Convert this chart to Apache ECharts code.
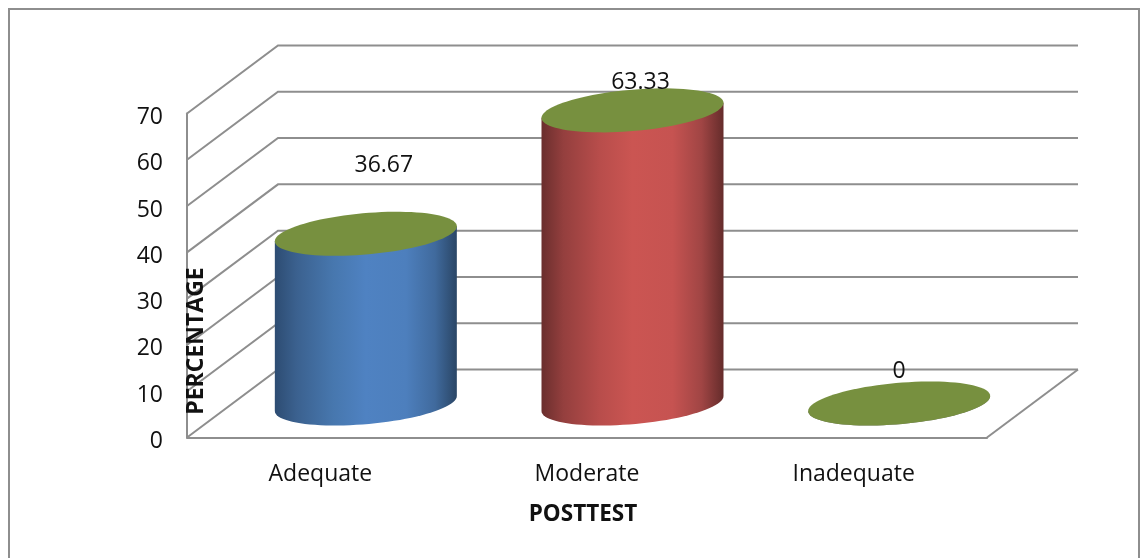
<!DOCTYPE html>
<html>
<head>
<meta charset="utf-8">
<style>html,body{margin:0;padding:0;background:#fff}#chart{width:1147px;height:558px}</style>
<script src="https://cdn.jsdelivr.net/npm/echarts@6/dist/echarts.min.js"></script>
</head>
<body>
<div id="chart"></div>
<script>
// Post-test percentages by adequacy level
const categories = ['Adequate', 'Moderate', 'Inadequate'];
const percentages = [36.67, 63.33, 0];
const valueTicks = [0, 10, 20, 30, 40, 50, 60, 70];
const xTitle = 'POSTTEST';
const yTitle = 'PERCENTAGE';

// Pseudo-3D box: how far the back wall sits from the front plane
const DEPTH_X = 91, DEPTH_Y = 68;
const LINE = '#8e8e8e', FONT = '"Open Sans", sans-serif';
const CAP = '#77903f';
const bodyFills = [
  [[0, '#2d4c72'], [0.12, '#3b618f'], [0.32, '#4777ae'], [0.5, '#4f82c2'], [0.72, '#4d7fbd'], [0.88, '#406a9d'], [1, '#2a4666']],
  [[0, '#6a2e2d'], [0.12, '#943f3e'], [0.32, '#b84d4b'], [0.5, '#cb5552'], [0.72, '#c65351'], [0.88, '#a04544'], [1, '#652c2b']],
  [[0, '#777'], [1, '#777']]
];
// Value labels sit a little off the cylinder axis
const labelShift = [[18, -68], [8, -28], [0, -32]];

function capPoint(cx, cy, t) {
  const rx = 91, skew = 7.5, ry = 20.7;
  return [cx + rx * Math.cos(t), cy - skew * Math.cos(t) - ry * Math.sin(t)];
}

function renderWall(params, api) {
  const box = params.coordSys;
  const y = api.coord([0, api.value(1)])[1];
  const isFloor = api.value(1) === 0;
  const right = box.x + box.width;
  const children = [{
    type: 'polyline',
    shape: { points: [[box.x, y], [box.x + DEPTH_X, y - DEPTH_Y], [right + DEPTH_X, y - DEPTH_Y]] },
    style: { stroke: LINE, lineWidth: 2, fill: null }
  }];
  if (isFloor) {
    children.push({
      type: 'line',
      shape: { x1: right + DEPTH_X, y1: y - DEPTH_Y, x2: right, y2: y },
      style: { stroke: LINE, lineWidth: 2 }
    });
  }
  return { type: 'group', children };
}

function renderCylinder(params, api) {
  const idx = params.dataIndex;
  const base = api.coord([api.value(0), 0]);
  const top = api.coord([api.value(0), api.value(1)]);
  const cx = base[0] + DEPTH_X / 2, baseY = base[1] - DEPTH_Y / 2, topY = top[1] - DEPTH_Y / 2;
  const N = 90, capPts = [], lower = [];
  for (let i = 0; i < N; i++) capPts.push(capPoint(cx, topY, i / N * 2 * Math.PI));
  for (let i = 0; i <= N / 2; i++) lower.push(capPoint(cx, baseY, Math.PI + i / N * 2 * Math.PI));
  const body = [capPoint(cx, topY, Math.PI)].concat(lower, [capPoint(cx, topY, 0)]);
  return {
    type: 'group',
    children: [
      {
        type: 'polygon', shape: { points: body },
        style: { fill: { type: 'linear', x: 0, y: 0, x2: 1, y2: 0,
          colorStops: bodyFills[idx].map(s => ({ offset: s[0], color: s[1] })) } }
      },
      { type: 'polygon', shape: { points: capPts }, style: { fill: CAP } },
      {
        type: 'text',
        style: {
          text: String(percentages[idx]),
          x: cx + labelShift[idx][0], y: topY + labelShift[idx][1],
          align: 'center', verticalAlign: 'middle',
          font: '23px ' + FONT, fill: '#111'
        }
      }
    ]
  };
}

const chart = echarts.init(document.getElementById('chart'), null, { renderer: 'canvas' });
chart.setOption({
  animation: false,
  backgroundColor: '#fff',
  grid: { left: 187, top: 113.5, width: 800, height: 324, containLabel: false },
  xAxis: {
    type: 'category', data: categories,
    axisTick: { show: false },
    axisLine: { lineStyle: { color: LINE, width: 2 } },
    axisLabel: { margin: 25, fontFamily: FONT, fontSize: 23, color: '#111' }
  },
  yAxis: {
    type: 'value', min: 0, max: 70, interval: 10,
    splitLine: { show: false },
    axisTick: { show: false },
    axisLine: { show: true, lineStyle: { color: LINE, width: 2 } },
    axisLabel: { margin: 24, fontFamily: FONT, fontSize: 23, color: '#111', verticalAlign: 'top', lineHeight: 8 }
  },
  series: [
    {
      type: 'custom', renderItem: renderWall, z: 1, silent: true,
      data: valueTicks.map(v => [0, v]), encode: { x: 0, y: 1 }
    },
    {
      type: 'custom', renderItem: renderCylinder, z: 2, silent: true,
      data: percentages.map((v, i) => [i, v]), encode: { x: 0, y: 1 }
    }
  ],
  graphic: [
    {
      type: 'rect', z: -1,
      shape: { x: 9, y: 9, width: 1130, height: 600 },
      style: { fill: null, stroke: LINE, lineWidth: 2 }
    },
    {
      type: 'text', z: 5, x: 583, y: 514.5,
      style: { text: xTitle, font: 'bold 22.5px ' + FONT, fill: '#111', align: 'center', verticalAlign: 'middle' }
    },
    {
      type: 'text', z: 5, x: 196, y: 341, rotation: Math.PI / 2,
      style: { text: yTitle, font: 'bold 23px ' + FONT, fill: '#111', align: 'center', verticalAlign: 'middle' }
    }
  ]
});
</script>
</body>
</html>
